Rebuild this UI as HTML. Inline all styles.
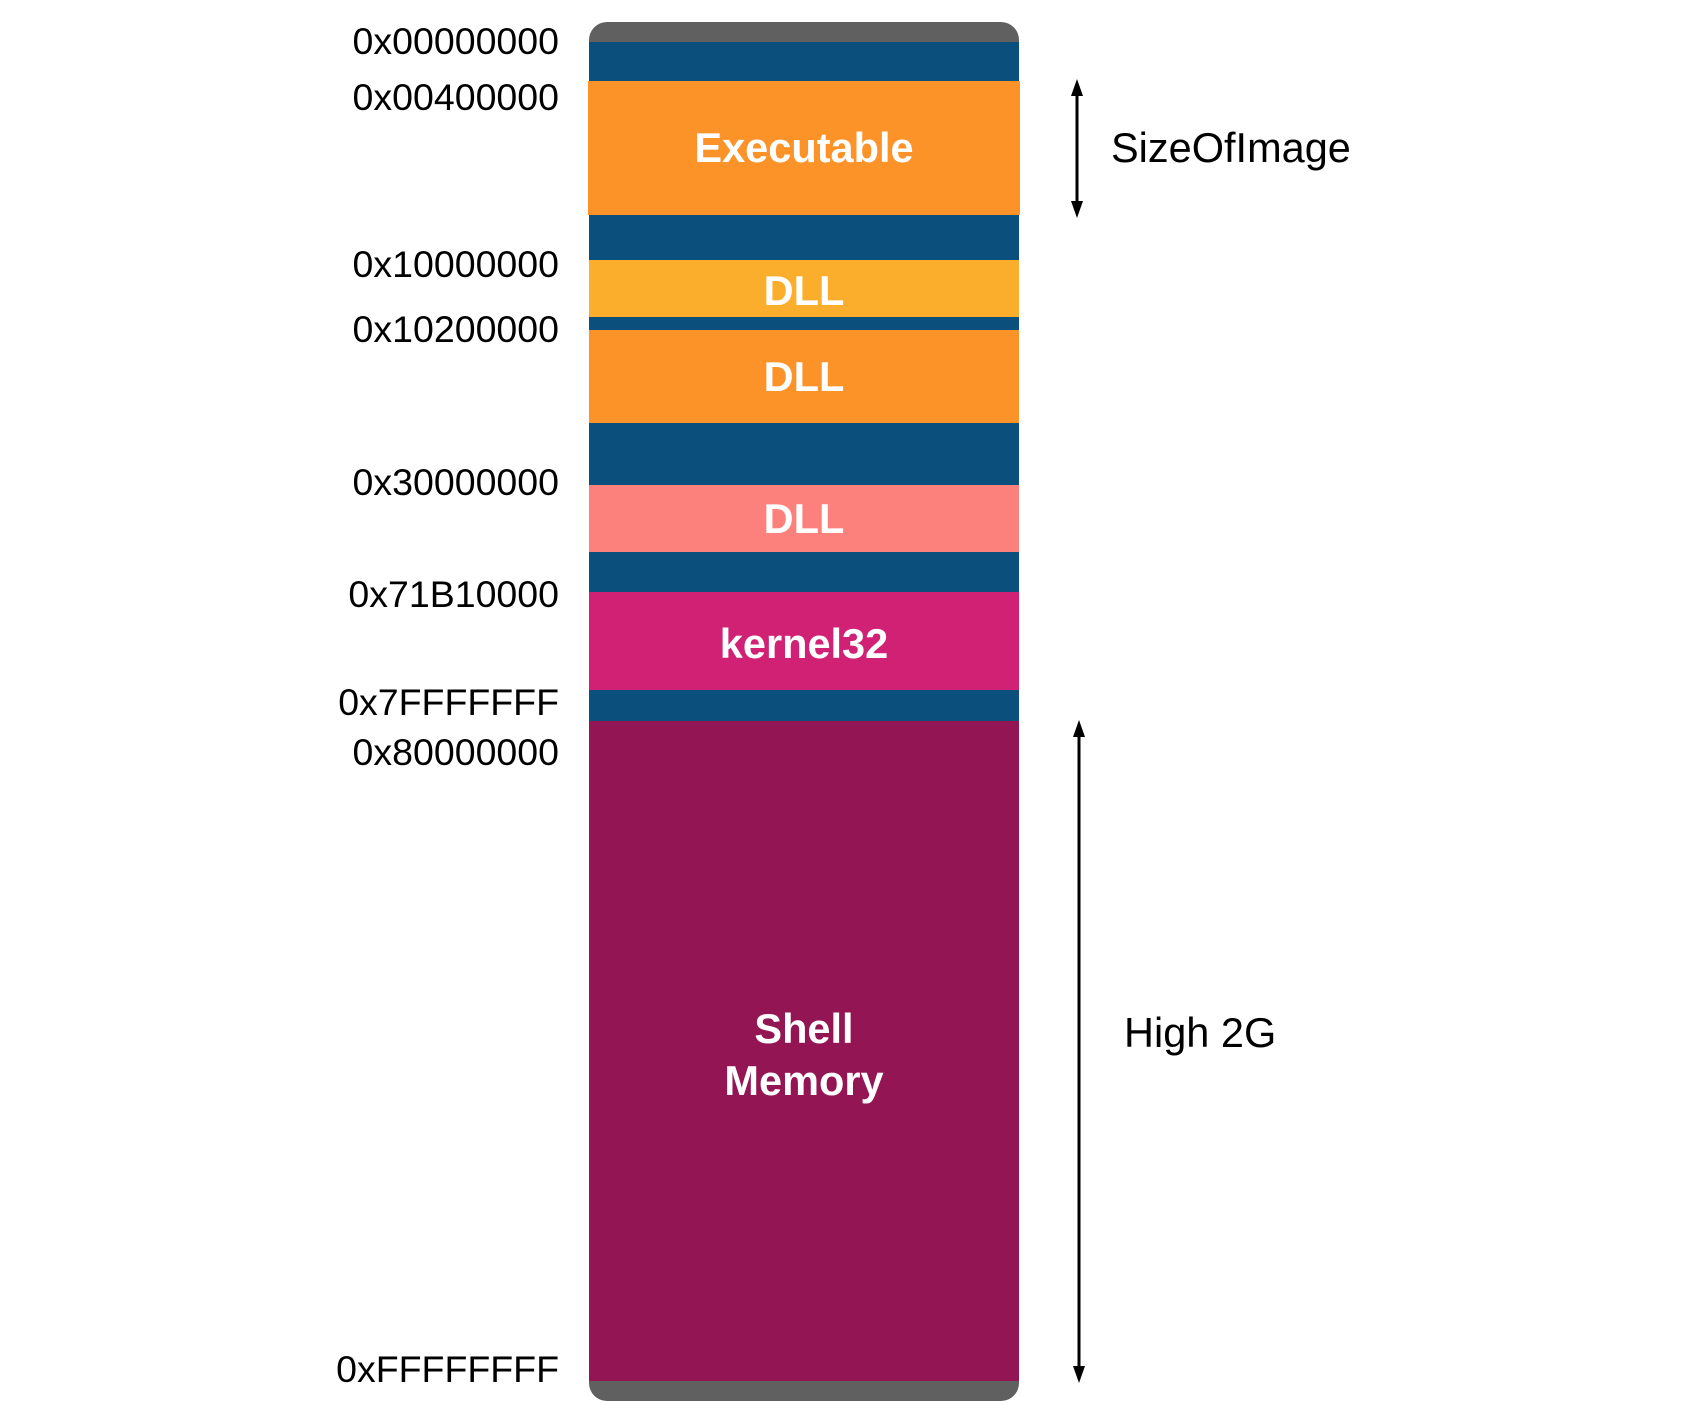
<!DOCTYPE html>
<html><head><style>
body{margin:0;width:1688px;height:1416px;background:#fff;position:relative;overflow:hidden;font-family:"Liberation Sans",Arial,sans-serif}
.b{position:absolute;left:589px;width:430px}
.l{position:absolute;right:1129px;font-size:37.5px;color:#000;line-height:40px;white-space:nowrap}
.t{position:absolute;left:589px;width:430px;text-align:center;color:#fff;font-weight:bold;font-size:41.5px;line-height:44px}
.r{position:absolute;font-size:41.5px;line-height:44px;color:#000}
</style></head><body>
<div class="b" style="top:22px;height:1379px;background:#606060;border-radius:18px"></div>
<div class="b" style="top:42px;height:679px;background:#0b4f7c"></div>
<div class="b" style="top:81px;height:134px;background:#fb9329;left:588px;width:432px"></div>
<div class="b" style="top:260px;height:57px;background:#fbad2c"></div>
<div class="b" style="top:330px;height:93px;background:#fb9329"></div>
<div class="b" style="top:485px;height:67px;background:#fc807b"></div>
<div class="b" style="top:592px;height:98px;background:#d12175"></div>
<div class="b" style="top:721px;height:660px;background:#941553"></div>

<div class="t" style="top:126px">Executable</div>
<div class="t" style="top:269px">DLL</div>
<div class="t" style="top:355px">DLL</div>
<div class="t" style="top:497px">DLL</div>
<div class="t" style="top:622px">kernel32</div>
<div class="t" style="top:1007px">Shell</div>
<div class="t" style="top:1059px">Memory</div>

<div class="l" style="top:21px">0x00000000</div>
<div class="l" style="top:77px">0x00400000</div>
<div class="l" style="top:244px">0x10000000</div>
<div class="l" style="top:309px">0x10200000</div>
<div class="l" style="top:462px">0x30000000</div>
<div class="l" style="top:574px">0x71B10000</div>
<div class="l" style="top:682px">0x7FFFFFFF</div>
<div class="l" style="top:732px">0x80000000</div>
<div class="l" style="top:1349px">0xFFFFFFFF</div>

<svg style="position:absolute;left:0;top:0" width="1688" height="1416">
<g stroke="#000" stroke-width="3"><line x1="1077" y1="92" x2="1077" y2="205"/><line x1="1079" y1="733" x2="1079" y2="1370"/></g>
<g fill="#000">
<polygon points="1077,79 1071,96 1083,96"/><polygon points="1077,218 1071,201 1083,201"/>
<polygon points="1079,720 1073,737 1085,737"/><polygon points="1079,1383 1073,1366 1085,1366"/>
</g></svg>
<div class="r" style="left:1111px;top:126px">SizeOfImage</div>
<div class="r" style="left:1124px;top:1011px">High 2G</div>
</body></html>
